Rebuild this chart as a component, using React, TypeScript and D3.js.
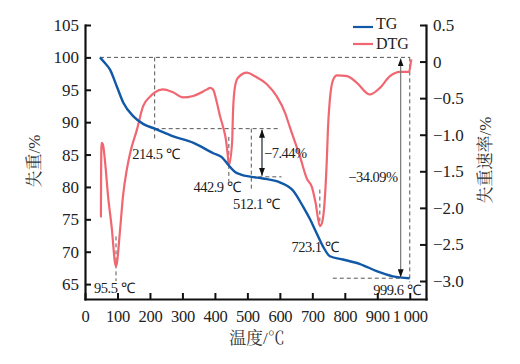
import * as d3 from "d3";
import { useEffect, useRef } from "react";

// TG curve (mass, %)
const tgTemp = [46, 60, 77, 98, 118, 149, 180, 214.5, 272, 334, 395, 421, 442.9, 462, 480, 512.1, 548, 600, 641, 671, 693, 710, 733, 754, 794, 847, 898, 948, 999.6];
const tgMass = [100, 99.2, 98.1, 95.5, 93.0, 90.9, 89.7, 89.0, 87.8, 86.8, 85.2, 84.6, 83.3, 82.3, 81.9, 81.56, 81.3, 80.7, 79.4, 77.0, 75.0, 73.2, 70.8, 69.3, 68.8, 68.1, 67.0, 66.2, 65.91];

// DTG curve (rate, %)
const dtgTemp = [49, 49.6, 51, 55, 62, 71, 83, 92, 95.5, 108, 117, 129, 139, 160, 179, 200, 215, 240, 271, 302, 333, 376, 385, 394, 406, 416, 425, 434, 440, 442.9, 453, 456, 462, 471, 499, 523, 560, 591, 616, 631, 662, 683, 699, 710, 723.1, 730, 739, 745, 748, 754, 764, 776, 807, 837, 877, 908, 939, 970, 998, 1003, 1005];
const dtgRate = [-2.13, -1.5, -1.11, -1.13, -1.38, -1.84, -2.30, -2.74, -2.80, -2.30, -1.84, -1.47, -1.25, -0.93, -0.61, -0.48, -0.42, -0.38, -0.42, -0.49, -0.47, -0.38, -0.36, -0.38, -0.56, -0.75, -0.89, -1.07, -1.30, -1.42, -1.10, -0.66, -0.34, -0.22, -0.15, -0.20, -0.31, -0.48, -0.70, -0.90, -1.30, -1.60, -1.72, -1.93, -2.25, -2.20, -1.84, -1.30, -0.93, -0.52, -0.25, -0.19, -0.20, -0.29, -0.45, -0.36, -0.20, -0.14, -0.14, -0.02, 0.03];

const xTicks = [0, 100, 200, 300, 400, 500, 600, 700, 800, 900, 1000];
const leftTicks = [65, 70, 75, 80, 85, 90, 95, 100, 105];
const rightTicks = [0.5, 0, -0.5, -1.0, -1.5, -2.0, -2.5, -3.0];

// peak / step temperatures and their labels
const peakTemps = [95.5, 214.5, 442.9, 512.1, 723.1, 999.6];
const peakLabels = ["95.5 ℃", "214.5 ℃", "442.9 ℃", "512.1 ℃", "723.1 ℃", "999.6 ℃"];
const stepLoss = ["−7.44%", "−34.09%"];

const BLUE = "#1158a7";
const RED = "#f06771";
const SERIF = "'Liberation Serif', 'Times New Roman', serif";
const CJK = "'Liberation Serif', 'Noto Serif CJK SC', 'Noto Sans CJK SC', serif";

const fmtX = (d: number) => (d === 1000 ? "1\u2009000" : String(d));
const fmtR = (d: number) => (d === 0 ? "0" : d3.format(".1f")(d).replace("-", "−"));

const App = () => {
    const ref = useRef<SVGSVGElement>(null);
    const width = 520;
    const height = 364;
    const margin = { top: 25, bottom: 65, left: 85, right: 94 };

    useEffect(() => {
        const svg = d3.select(ref.current);
        svg.selectAll("*").remove();

        const x = d3.scaleLinear().domain([0, 1050]).range([margin.left, width - margin.right]);
        const yL = d3.scaleLinear().domain([62.7, 105]).range([height - margin.bottom, margin.top]);
        const yR = d3.scaleLinear().domain([-3.246, 0.5]).range([height - margin.bottom, margin.top]);

        const defs = svg.append("defs");
        defs.append("marker")
            .attr("id", "arr")
            .attr("viewBox", "0 0 8 6")
            .attr("refX", 8).attr("refY", 3)
            .attr("markerWidth", 8).attr("markerHeight", 6)
            .attr("markerUnits", "userSpaceOnUse")
            .attr("orient", "auto-start-reverse")
            .append("path").attr("d", "M0,0L8,3L0,6z").attr("fill", "#111");

        // dashed guide lines
        const g = svg.append("g")
            .attr("stroke", "#555").attr("stroke-width", 1)
            .attr("stroke-dasharray", "4,3").attr("fill", "none");
        const dash = (x1: number, y1: number, x2: number, y2: number) =>
            g.append("line").attr("x1", x1).attr("y1", y1).attr("x2", x2).attr("y2", y2);

        const lastMass = tgMass[tgMass.length - 1];
        dash(x(tgTemp[0]), yL(100), x(1000), yL(100));
        dash(x(1000), yL(100), x(1000), yL(65.3));
        dash(x(763), yL(lastMass), x(1000), yL(lastMass));
        dash(x(peakTemps[1]), yL(100), x(peakTemps[1]), yL(87.3));
        dash(x(peakTemps[1]), yL(89.0), x(600), yL(89.0));
        dash(x(peakTemps[3]), yL(89.0), x(peakTemps[3]), yL(79.6));
        dash(x(peakTemps[3]), yL(81.56), x(605), yL(81.56));
        dash(x(peakTemps[0]), yR(-2.39), x(peakTemps[0]), yR(-3.0));
        dash(x(peakTemps[2]), yR(-1.03), x(peakTemps[2]), yR(-1.64));
        dash(x(peakTemps[4]), yR(-1.75), x(peakTemps[4]), yR(-2.25));

        // curves
        const tgData = tgTemp.map((t, i) => [t, tgMass[i]] as [number, number]);
        const dtgData = dtgTemp.map((t, i) => [t, dtgRate[i]] as [number, number]);

        svg.append("path")
            .attr("d", d3.line().x(d => x(d[0])).y(d => yR(d[1])).curve(d3.curveMonotoneX)(dtgData))
            .attr("fill", "none").attr("stroke", RED).attr("stroke-width", 2.2)
            .attr("stroke-linejoin", "round");
        svg.append("path")
            .attr("d", d3.line().x(d => x(d[0])).y(d => yL(d[1])).curve(d3.curveMonotoneX)(tgData))
            .attr("fill", "none").attr("stroke", BLUE).attr("stroke-width", 2.4)
            .attr("stroke-linejoin", "round");

        // loss arrows
        svg.append("line")
            .attr("x1", x(545)).attr("x2", x(545))
            .attr("y1", yL(89.0) + 1).attr("y2", yL(81.56) - 1)
            .attr("stroke", "#1b2638").attr("stroke-width", 1.2)
            .attr("marker-start", "url(#arr)").attr("marker-end", "url(#arr)");
        svg.append("line")
            .attr("x1", x(972)).attr("x2", x(972))
            .attr("y1", yL(100) + 1).attr("y2", yL(lastMass) - 1)
            .attr("stroke", "#777").attr("stroke-width", 1.2)
            .attr("marker-start", "url(#arr)").attr("marker-end", "url(#arr)");

        // text annotations
        const notes = svg.append("g")
            .attr("font-family", SERIF).attr("font-size", 14.5).attr("fill", "#222");
        const offs = [[-2, 293], [1, 159], [-12, 192], [5, 209], [-5, 252], [-13, 295]];
        peakTemps.forEach((t, i) => {
            notes.append("text")
                .attr("x", x(t) + offs[i][0]).attr("y", offs[i][1])
                .attr("text-anchor", "middle").attr("letter-spacing", -0.5)
                .text(peakLabels[i]);
        });
        notes.append("text").attr("x", x(545) + 2).attr("y", 158).attr("letter-spacing", -0.5).text(stepLoss[0]);
        notes.append("text").attr("x", x(972) - 3).attr("y", 182).attr("text-anchor", "end").attr("letter-spacing", -0.5).text(stepLoss[1]);

        // axes
        const styleAxis = (sel: any, fs: number) => {
            sel.select(".domain").attr("stroke", "#111").attr("stroke-width", 2.2).attr("stroke-linecap", "square");
            sel.selectAll(".tick line").attr("stroke", "#111").attr("stroke-width", 2);
            sel.selectAll(".tick text").attr("fill", "#222").attr("font-size", fs).attr("font-family", SERIF);
        };

        svg.append("g")
            .attr("transform", `translate(0, ${height - margin.bottom})`)
            .call(d3.axisBottom(x).tickValues(xTicks).tickFormat(fmtX as any).tickSizeInner(-6).tickSizeOuter(0).tickPadding(11))
            .call(styleAxis, 16.5)
            .selectAll(".tick text").attr("letter-spacing", -0.3);
        svg.append("g")
            .attr("transform", `translate(${margin.left}, 0)`)
            .call(d3.axisLeft(yL).tickValues(leftTicks).tickSizeInner(-6).tickSizeOuter(0).tickPadding(6))
            .call(styleAxis, 17);
        svg.append("g")
            .attr("transform", `translate(${width - margin.right}, 0)`)
            .call(d3.axisRight(yR).tickValues(rightTicks).tickFormat(fmtR as any).tickSizeInner(-6).tickSizeOuter(0).tickPadding(7))
            .call(styleAxis, 17);

        // axis titles
        svg.append("text")
            .attr("transform", `translate(40, 161) rotate(-90)`)
            .attr("text-anchor", "middle").attr("font-family", CJK).attr("font-size", 17).attr("fill", "#333")
            .text("失重/%");
        svg.append("text")
            .attr("transform", `translate(491, 160) rotate(-90)`)
            .attr("text-anchor", "middle").attr("font-family", CJK).attr("font-size", 17).attr("fill", "#333")
            .text("失重速率/%");
        svg.append("text")
            .attr("x", 257).attr("y", 344)
            .attr("text-anchor", "middle").attr("font-family", CJK).attr("font-size", 17).attr("fill", "#333")
            .text("温度/℃");

        // legend
        const leg = svg.append("g").attr("font-family", SERIF).attr("font-size", 16).attr("fill", "#222");
        [["TG", BLUE], ["DTG", RED]].forEach(([name, c], i) => {
            leg.append("line")
                .attr("x1", 353).attr("x2", 373)
                .attr("y1", 27 + i * 17).attr("y2", 27 + i * 17)
                .attr("stroke", c).attr("stroke-width", 2.2);
            leg.append("text").attr("x", 376).attr("y", 29 + i * 20).text(name);
        });
    }, []);

    return (
        <svg ref={ref} width={width} height={height}
            style={{ position: "absolute", left: 0, top: 0, background: "#fff" }} />
    );
};

export default App;
